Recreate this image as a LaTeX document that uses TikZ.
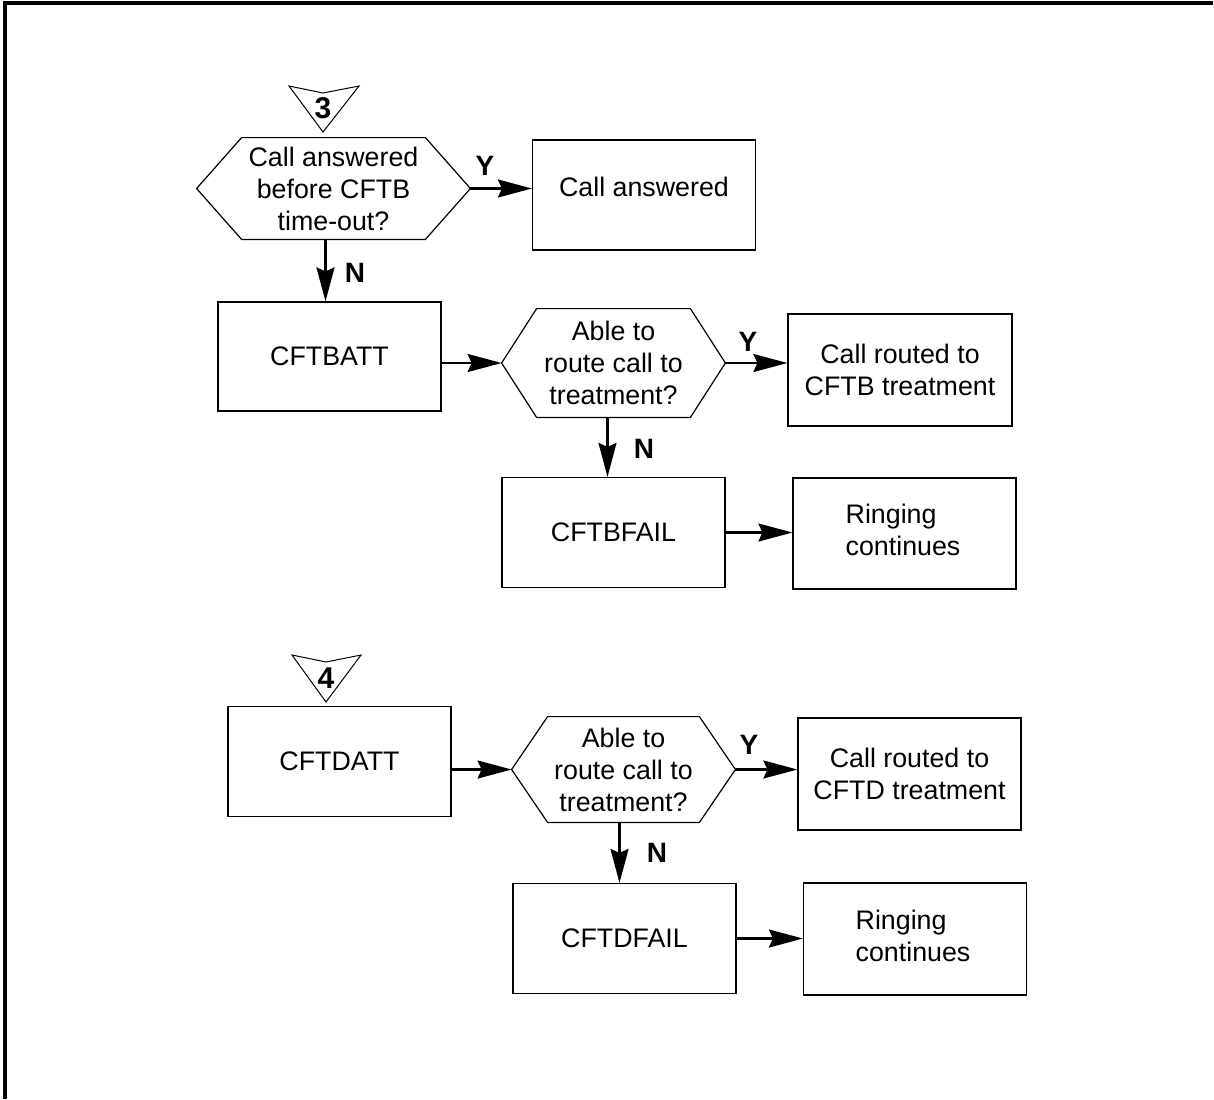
\documentclass[tikz,border=0pt]{standalone}
\usepackage{fontspec}
\setmainfont{Liberation Sans}
\usetikzlibrary{arrows.meta}
\newcommand\hexdraw[2]{\draw[hexline] (#1.west) -- ([xshift=#2]#1.north west) -- ([xshift=-#2]#1.north east) -- (#1.east) -- ([xshift=-#2]#1.south east) -- ([xshift=#2]#1.south west) -- cycle;}
\begin{document}
\begin{tikzpicture}[x=0.5pt,y=-0.5pt,
  txt/.style={font=\fontsize{13.4}{16}\selectfont},
  box/.style={txt, draw, line width=0.6pt, inner sep=0pt, align=center, minimum width=111.5pt, minimum height=55pt},
  hexn/.style={txt, inner sep=0pt, align=center},
  hexline/.style={line width=0.6pt},
  arr/.style={line width=1.1pt, -{Stealth[length=17pt,width=9pt,inset=2pt]}},
  lab/.style={font=\fontsize{14}{16}\selectfont\bfseries, inner sep=0pt},
  num/.style={font=\fontsize{15}{17}\selectfont\bfseries, inner sep=0pt}]
\useasboundingbox (0,0) rectangle (1214,1099);
% frame (top and left)
\draw[line width=1.6pt] (5,1099) -- (5,3) -- (1213,3);

% ---------- section 3 ----------
\draw[line width=0.5pt] (289,86) -- (323,93) -- (359,86) -- (323,132) -- cycle;
\node[num] (t3) at (323,108) {3};

\node[hexn, minimum width=136.5pt, minimum height=50.5pt] (h1) at (333.5,188.5) {Call answered\\before CFTB\\time-out?};
\hexdraw{h1}{22.5pt}
\node[box] (ca) at (644,195) {};
\node[txt, inner sep=0pt] (catxt) at (644,187) {Call answered};
\node[box, minimum height=54.5pt] (batt) at (329.5,356.5) {CFTBATT};
\node[hexn, minimum width=111.5pt, minimum height=54pt] (h2) at (613.5,363) {Able to\\route call to\\treatment?};
\hexdraw{h2}{17.5pt}
\node[box, minimum width=112pt, minimum height=56pt] (rb) at (900,370) {Call routed to\\CFTB treatment};
\node[box] (bfail) at (613.5,532.5) {CFTBFAIL};
\node[box, minimum height=55.5pt] (ring1) at (904.5,533.5) {};
\node[txt, inner sep=0pt, align=left] (ring1txt) at (903,530) {Ringing\\continues};

\draw[arr] (h1.east) -- (h1.east -| ca.west);
\node[lab] (y1) at (485,166) {Y};
\draw[arr] ([xshift=-4pt]h1.south) -- ([xshift=-4pt]h1.south |- batt.north);
\node[lab] (n1) at (355,273) {N};
\draw[arr] (batt.east |- h2.west) -- (h2.west);
\draw[arr] (h2.east) -- (h2.east -| rb.west);
\node[lab] (y2) at (748,342) {Y};
\draw[arr] ([xshift=-3pt]h2.south) -- ([xshift=-3pt]h2.south |- bfail.north);
\node[lab] (n2) at (644,449) {N};
\draw[arr] (bfail.east) -- (bfail.east -| ring1.west);

% ---------- section 4 ----------
\draw[line width=0.5pt] (292,655) -- (326,662) -- (361,655) -- (326,702) -- cycle;
\node[num] (t4) at (326,678) {4};

\node[box] (datt) at (339.5,761.5) {CFTDATT};
\node[hexn, minimum width=111.5pt, minimum height=52.5pt] (h3) at (623.5,769.5) {Able to\\route call to\\treatment?};
\hexdraw{h3}{18pt}
\node[box, minimum height=56pt] (rd) at (909.5,774) {Call routed to\\CFTD treatment};
\node[box] (dfail) at (624.5,938.5) {CFTDFAIL};
\node[box, minimum height=56pt] (ring2) at (915,939) {};
\node[txt, inner sep=0pt, align=left] (ring2txt) at (913,936) {Ringing\\continues};

\draw[arr] (datt.east |- h3.west) -- (h3.west);
\draw[arr] (h3.east) -- (h3.east -| rd.west);
\node[lab] (y3) at (749,745) {Y};
\draw[arr] ([xshift=-2pt]h3.south) -- ([xshift=-2pt]h3.south |- dfail.north);
\node[lab] (n3) at (657,853) {N};
\draw[arr] (dfail.east) -- (dfail.east -| ring2.west);
\end{tikzpicture}
\end{document}
